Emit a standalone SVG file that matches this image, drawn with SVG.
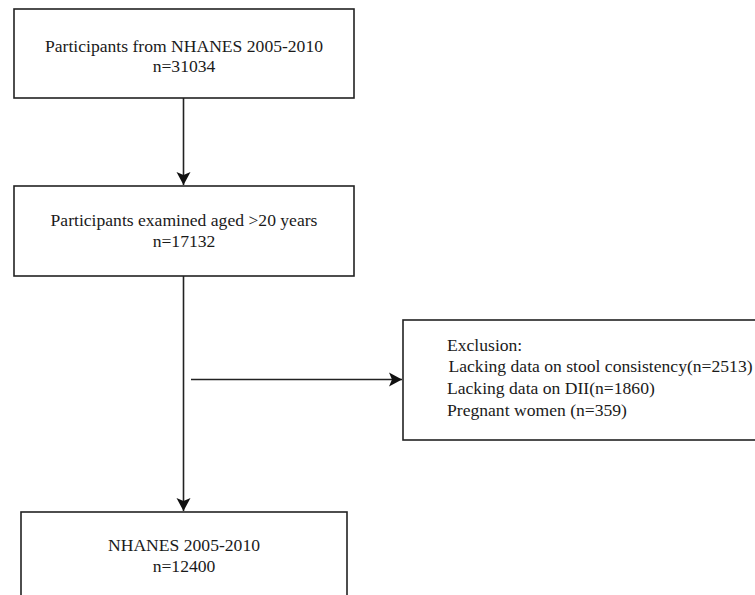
<svg xmlns="http://www.w3.org/2000/svg" width="755" height="595" viewBox="0 0 755 595">
<style>
.box{fill:#fff;stroke:#222;stroke-width:1.6}
.t{font-family:"Liberation Serif","Times New Roman",serif;font-size:17.6px;fill:#1a1a1a}
.c{text-anchor:middle}
.ln{stroke:#222;stroke-width:1.6;fill:none}
</style>
<defs>
<marker id="arr" markerUnits="userSpaceOnUse" markerWidth="16" markerHeight="16" viewBox="-14 -8 16 16" refX="0" refY="0" orient="auto">
<path d="M0,0 L-13,-7 L-10,0 L-13,7 Z" fill="#111"/>
</marker>
</defs>
<rect width="755" height="595" fill="#fff"/>
<g id="connectors">
<line class="ln" x1="183.5" y1="98" x2="183.5" y2="185" marker-end="url(#arr)"/>
<line class="ln" x1="183.5" y1="276" x2="183.5" y2="511" marker-end="url(#arr)"/>
<line class="ln" x1="191" y1="379.5" x2="402" y2="379.5" marker-end="url(#arr)"/>
</g>
<g id="n1">
<rect class="box" x="14" y="9" width="340" height="89"/>
<text class="t c" x="184" y="52">Participants from NHANES 2005-2010</text>
<text class="t c" x="184" y="72">n=31034</text>
</g>
<g id="n2">
<rect class="box" x="14" y="186" width="340" height="90"/>
<text class="t c" x="184" y="226">Participants examined aged &gt;20 years</text>
<text class="t c" x="184" y="247">n=17132</text>
</g>
<g id="n3">
<rect class="box" x="403" y="320" width="370" height="120"/>
<text class="t" x="447" y="351">Exclusion:</text>
<text class="t" x="448.5" y="372">Lacking data on stool consistency(n=2513)</text>
<text class="t" x="447" y="394">Lacking data on DII(n=1860)</text>
<text class="t" x="447" y="416">Pregnant women (n=359)</text>
</g>
<g id="n4">
<rect class="box" x="21" y="512" width="326" height="100"/>
<text class="t c" x="184" y="551">NHANES 2005-2010</text>
<text class="t c" x="184" y="572">n=12400</text>
</g>
</svg>
